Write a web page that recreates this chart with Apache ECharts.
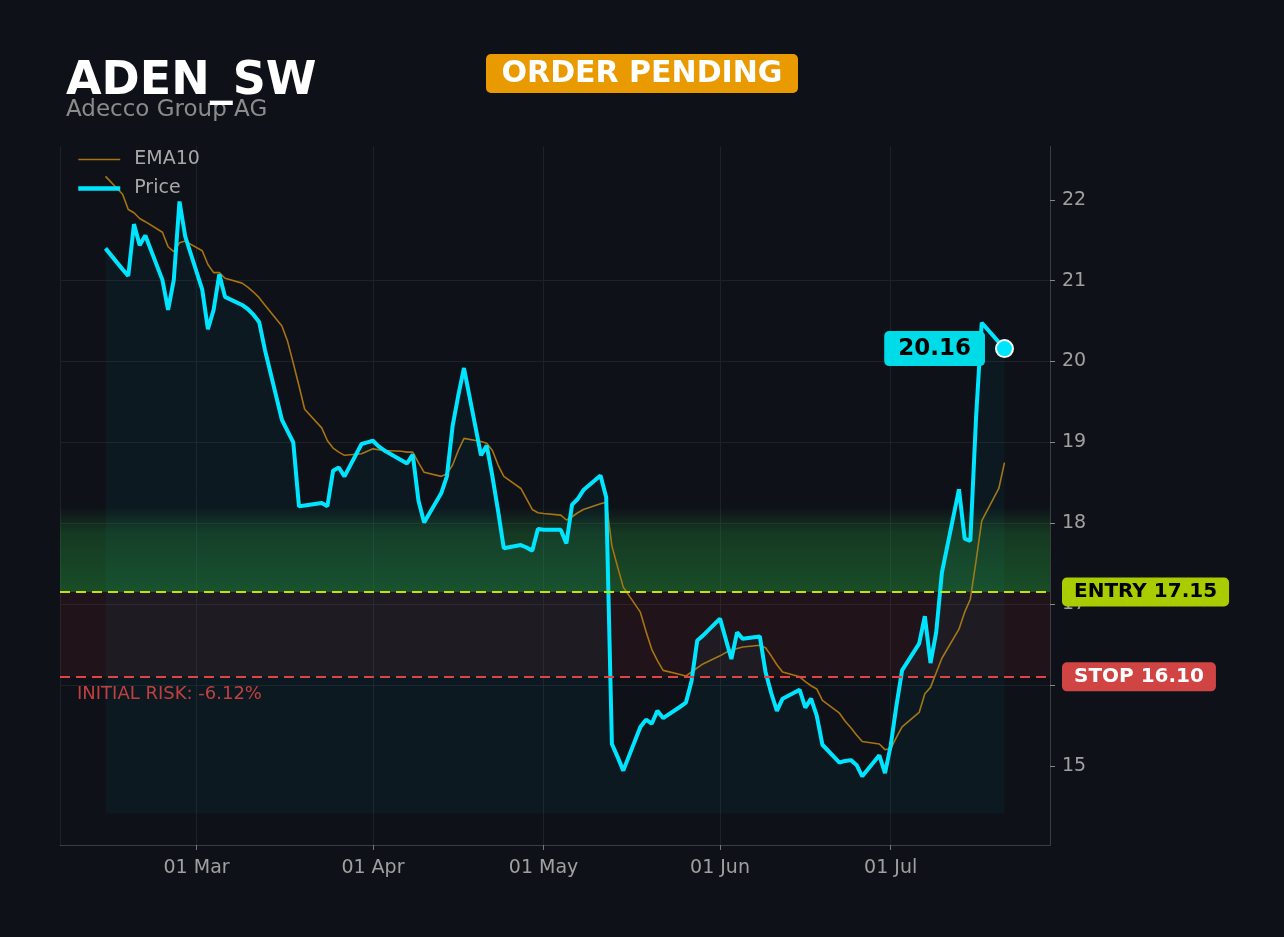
<!DOCTYPE html>
<html>
<head>
<meta charset="utf-8">
<script src="https://cdn.jsdelivr.net/npm/echarts@6/dist/echarts.min.js"></script>
<style>
html,body{margin:0;padding:0;background:#0e1118;}
#chart{width:1284px;height:937px;}
</style>
</head>
<body>
<div id="chart"></div>
<script>
const dates = [
'2026-02-13',
'2026-02-16','2026-02-17','2026-02-18','2026-02-19','2026-02-20',
'2026-02-23','2026-02-24','2026-02-25','2026-02-26','2026-02-27',
'2026-03-02','2026-03-03','2026-03-04','2026-03-05','2026-03-06',
'2026-03-09','2026-03-10','2026-03-11','2026-03-12','2026-03-13',
'2026-03-16','2026-03-17','2026-03-18','2026-03-19','2026-03-20',
'2026-03-23','2026-03-24','2026-03-25','2026-03-26','2026-03-27',
'2026-03-30','2026-03-31','2026-04-01','2026-04-02','2026-04-03',
'2026-04-06','2026-04-07','2026-04-08','2026-04-09','2026-04-10',
'2026-04-13','2026-04-14','2026-04-15','2026-04-16','2026-04-17',
'2026-04-20','2026-04-21','2026-04-22','2026-04-23','2026-04-24',
'2026-04-27','2026-04-28','2026-04-29','2026-04-30','2026-05-01',
'2026-05-04','2026-05-05','2026-05-06','2026-05-07','2026-05-08',
'2026-05-11','2026-05-12','2026-05-13','2026-05-14','2026-05-15',
'2026-05-18','2026-05-19','2026-05-20','2026-05-21','2026-05-22',
'2026-05-25','2026-05-26','2026-05-27','2026-05-28','2026-05-29',
'2026-06-01','2026-06-02','2026-06-03','2026-06-04','2026-06-05',
'2026-06-08','2026-06-09','2026-06-10','2026-06-11','2026-06-12',
'2026-06-15','2026-06-16','2026-06-17','2026-06-18','2026-06-19',
'2026-06-22','2026-06-23','2026-06-24','2026-06-25','2026-06-26',
'2026-06-29','2026-06-30','2026-07-01','2026-07-02','2026-07-03',
'2026-07-06','2026-07-07','2026-07-08','2026-07-09','2026-07-10',
'2026-07-13','2026-07-14','2026-07-15','2026-07-16','2026-07-17',
'2026-07-20','2026-07-21'
];
const price = [
21.40,
21.14,21.06,21.70,21.44,21.56,
21.01,20.64,21.01,21.98,21.55,
20.89,20.40,20.64,21.08,20.80,
20.70,20.65,20.58,20.49,20.15,
19.28,19.14,19.00,18.21,18.22,
18.25,18.21,18.65,18.69,18.58,
18.98,19.00,19.02,18.95,18.90,
18.78,18.74,18.85,18.28,18.01,
18.37,18.58,19.20,19.58,19.92,
18.84,18.96,18.58,18.15,17.69,
17.73,17.70,17.66,17.93,17.92,
17.92,17.75,18.23,18.30,18.41,
18.59,18.32,15.27,15.11,14.94,
15.48,15.57,15.52,15.68,15.59,
15.73,15.78,16.05,16.55,16.61,
16.82,16.57,16.32,16.65,16.57,
16.60,16.16,15.90,15.68,15.83,
15.94,15.72,15.83,15.62,15.26,
15.04,15.06,15.07,15.01,14.87,
15.13,14.91,15.25,15.74,16.18,
16.51,16.85,16.27,16.65,17.39,
18.42,17.81,17.78,19.30,20.48,
20.24,20.16
];
const ema10 = [
22.29,
22.07,21.88,21.84,21.77,21.73,
21.60,21.42,21.36,21.47,21.49,
21.37,21.20,21.10,21.10,21.03,
20.97,20.92,20.86,20.79,20.70,
20.44,20.25,19.98,19.70,19.41,
19.18,19.02,18.93,18.88,18.84,
18.86,18.89,18.92,18.91,18.90,
18.89,18.88,18.88,18.75,18.63,
18.58,18.61,18.72,18.90,19.05,
19.01,18.99,18.90,18.72,18.58,
18.43,18.30,18.17,18.13,18.12,
18.10,18.04,18.08,18.13,18.17,
18.24,18.26,17.72,17.46,17.21,
16.90,16.66,16.44,16.30,16.18,
16.13,16.11,16.16,16.21,16.26,
16.36,16.40,16.43,16.45,16.47,
16.49,16.46,16.36,16.25,16.16,
16.10,16.04,15.99,15.95,15.81,
15.65,15.55,15.47,15.38,15.30,
15.27,15.20,15.21,15.35,15.48,
15.66,15.89,15.97,16.15,16.33,
16.69,16.90,17.06,17.53,18.03,
18.43,18.75
];
const yTickValues = [15, 16, 17, 18, 19, 20, 21, 22];
const ticker = 'ADEN_SW';
const companyName = 'Adecco Group AG';
const statusText = 'ORDER PENDING';
const entryPrice = 17.15;
const stopPrice = 16.10;
const targetZoneTop = 18.2;
const areaBase = 14.41;

const FONT = 'DejaVu Sans';
const priceSeries = dates.map((d, i) => [d, price[i]]);
const emaSeries = dates.map((d, i) => [d, ema10[i]]);
const lastIdx = dates.length - 1;
const riskPct = ((stopPrice - entryPrice) / entryPrice * 100).toFixed(2);

const chart = echarts.init(document.getElementById('chart'));
chart.setOption({
  backgroundColor: '#0e1118',
  animation: false,
  textStyle: { fontFamily: FONT },
  grid: { left: 60, right: 234, top: 146.5, bottom: 92 },
  legend: {
    data: [
      { name: 'EMA10', lineStyle: { width: 1.6, color: '#a87410' } },
      { name: 'Price', lineStyle: { width: 4.5, color: '#00e5ff' } }
    ],
    orient: 'vertical',
    left: 71, top: 145,
    itemWidth: 42, itemHeight: 14, itemGap: 10,
    itemStyle: { opacity: 0 },
    textStyle: { color: '#a8a8a8', fontSize: 19, lineHeight: 19, fontFamily: FONT, padding: [0, 0, 0, 9] }
  },
  xAxis: {
    type: 'time',
    min: '2026-02-05', max: '2026-07-29',
    splitNumber: 6,
    axisLine: { lineStyle: { color: '#3a3d44' } },
    axisTick: { show: true, length: 5, lineStyle: { color: '#777' } },
    axisLabel: { formatter: '{dd} {MMM}', color: '#a0a0a0', fontSize: 19, margin: 14, fontFamily: FONT },
    splitLine: { show: true, lineStyle: { color: '#1d2128' } }
  },
  yAxis: {
    type: 'value', position: 'right',
    min: 14.02, max: 22.66, splitNumber: 8,
    axisLine: { show: true, lineStyle: { color: '#3a3d44' } },
    axisTick: { show: true, length: 5, lineStyle: { color: '#888' }, customValues: yTickValues },
    axisLabel: {
      color: '#a0a0a0', fontSize: 19, margin: 12, fontFamily: FONT,
      customValues: yTickValues,
      formatter: v => Math.abs(v - Math.round(v)) < 1e-6 ? String(Math.round(v)) : ''
    },
    splitLine: { show: true, showMinLine: false, showMaxLine: false, lineStyle: { color: '#1d2128' } }
  },
  series: [
    {
      name: 'EMA10', type: 'line', data: emaSeries,
      symbol: 'none', showSymbol: false,
      lineStyle: { color: '#a87410', width: 1.6 },
      itemStyle: { color: '#a87410' },
      z: 2
    },
    {
      name: 'Price', type: 'line', data: priceSeries,
      symbol: 'none', showSymbol: false,
      lineStyle: { color: '#00e5ff', width: 4 },
      itemStyle: { color: '#00e5ff' },
      areaStyle: { color: 'rgba(0,229,255,0.055)', origin: areaBase },
      z: 3,
      markArea: {
        silent: true,
        data: [
          [{ yAxis: entryPrice, itemStyle: { color: {
              type: 'linear', x: 0, y: 0, x2: 0, y2: 1,
              colorStops: [
                { offset: 0, color: 'rgba(40,160,60,0)' },
                { offset: 0.3, color: 'rgba(40,160,60,0.28)' },
                { offset: 1, color: 'rgba(40,160,60,0.42)' }
              ] } } },
           { yAxis: targetZoneTop }],
          [{ yAxis: stopPrice, itemStyle: { color: 'rgba(220,50,60,0.09)' } }, { yAxis: entryPrice }]
        ]
      },
      markLine: {
        silent: true,
        symbol: ['none', 'none'],
        data: [
          {
            yAxis: entryPrice,
            lineStyle: { color: '#c8e000', type: [10, 6], width: 2 },
            label: {
              show: true, position: 'end', distance: 12,
              formatter: 'ENTRY ' + entryPrice.toFixed(2),
              color: '#000', fontWeight: 'bold', fontSize: 20, fontFamily: FONT,
              backgroundColor: '#a8cc00', padding: [5, 12, 4, 12], borderRadius: 5
            }
          },
          {
            yAxis: stopPrice,
            lineStyle: { color: '#e04545', type: [10, 6], width: 2 },
            label: {
              show: true, position: 'end', distance: 12,
              formatter: 'STOP ' + stopPrice.toFixed(2),
              color: '#fff', fontWeight: 'bold', fontSize: 20, fontFamily: FONT,
              backgroundColor: '#d04444', padding: [5, 12, 4, 12], borderRadius: 5
            }
          }
        ]
      }
    },
    {
      name: 'Last', type: 'scatter',
      data: [[dates[lastIdx], price[lastIdx]]],
      symbol: 'circle', symbolSize: 17,
      itemStyle: { color: '#00e5ff', borderColor: '#ffffff', borderWidth: 2, opacity: 1 },
      label: {
        show: true, position: 'left', distance: 10,
        formatter: p => p.value[1].toFixed(2),
        color: '#000', fontWeight: 'bold', fontSize: 23, fontFamily: FONT,
        backgroundColor: '#00dbe8', padding: [6, 14, 6, 14], borderRadius: 5
      },
      z: 5
    }
  ],
  graphic: [
    { type: 'text', x: 66, y: 82, style: { text: ticker, fill: '#ffffff', font: 'bold 46px "DejaVu Sans"', verticalAlign: 'middle', align: 'left' }, z: 10 },
    { type: 'text', x: 66, y: 110, style: { text: companyName, fill: '#8b8b8b', font: '23px "DejaVu Sans"', verticalAlign: 'middle', align: 'left' }, z: 9 },
    { type: 'rect', shape: { x: 486, y: 54, width: 312, height: 39, r: 5 }, style: { fill: '#e89a00' }, z: 10 },
    { type: 'text', x: 642, y: 74, style: { text: statusText, fill: '#ffffff', font: 'bold 30px "DejaVu Sans"', verticalAlign: 'middle', align: 'center' }, z: 11 },
    { type: 'text', x: 77, y: 694, style: { text: 'INITIAL RISK: ' + riskPct + '%', fill: '#c0403f', font: '18px "DejaVu Sans"', verticalAlign: 'middle', align: 'left' }, z: 10 }
  ]
});
</script>
</body>
</html>
